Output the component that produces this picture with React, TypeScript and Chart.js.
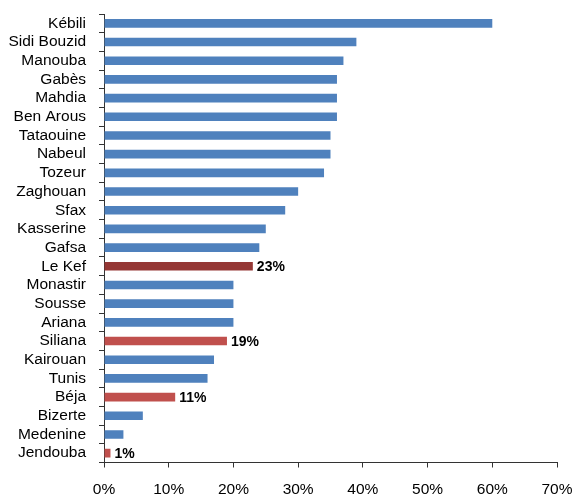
import React, { useEffect, useRef } from "react";
import { Chart, registerables } from "chart.js";

Chart.register(...registerables);

const categories = [
  "Kébili", "Sidi Bouzid", "Manouba", "Gabès", "Mahdia", "Ben Arous", "Tataouine",
  "Nabeul", "Tozeur", "Zaghouan", "Sfax", "Kasserine", "Gafsa", "Le Kef", "Monastir",
  "Sousse", "Ariana", "Siliana", "Kairouan", "Tunis", "Béja", "Bizerte", "Medenine", "Jendouba",
];
const values = [60, 39, 37, 36, 36, 36, 35, 35, 34, 30, 28, 25, 24, 23, 20, 20, 20, 19, 17, 16, 11, 6, 3, 1];
const darkRed = ["Le Kef"];
const lightRed = ["Siliana", "Béja", "Jendouba"];
const labeled = ["Le Kef", "Siliana", "Béja", "Jendouba"];
const xTicks = [0, 10, 20, 30, 40, 50, 60, 70];

const BLUE = "#4F81BD";
const DARK_RED = "#953735";
const RED = "#C0504D";
const FONT = "'Liberation Sans', Arial, sans-serif";

const labelPlugin = {
  id: "barLabels",
  afterDatasetsDraw(chart: any) {
    const ctx = chart.ctx;
    const meta = chart.getDatasetMeta(0);
    ctx.save();
    ctx.font = `bold 14px ${FONT}`;
    ctx.fillStyle = "#000";
    ctx.textAlign = "left";
    ctx.textBaseline = "middle";
    meta.data.forEach((bar: any, i: number) => {
      if (labeled.includes(categories[i])) {
        ctx.fillText(values[i] + "%", bar.x + 4, bar.y + 1);
      }
    });
    ctx.restore();
  },
};

const zeroPad = (scale: any) => {
  scale.paddingTop = 0;
  scale.paddingBottom = 0;
  scale.paddingLeft = 0;
  scale.paddingRight = 0;
};

export default function App() {
  const ref = useRef<HTMLCanvasElement>(null);
  useEffect(() => {
    if (!ref.current) return;
    Chart.defaults.font.family = FONT;
    Chart.defaults.color = "#000";
    const colors = categories.map((c) =>
      darkRed.includes(c) ? DARK_RED : lightRed.includes(c) ? RED : BLUE
    );
    const chart = new Chart(ref.current, {
      type: "bar",
      data: {
        labels: categories,
        datasets: [
          {
            data: values,
            backgroundColor: colors,
            barPercentage: 0.46,
            categoryPercentage: 1,
          },
        ],
      },
      options: {
        indexAxis: "y",
        animation: false,
        responsive: false,
        maintainAspectRatio: false,
        layout: { padding: { top: 14, right: 17, left: 0, bottom: 0 } },
        plugins: { legend: { display: false }, tooltip: { enabled: false } },
        scales: {
          x: {
            min: 0,
            max: 70,
            afterBuildTicks: (scale: any) => {
              scale.ticks = xTicks.map((v) => ({ value: v }));
            },
            afterFit: (scale: any) => {
              scale.height = 37.5;
              zeroPad(scale);
            },
            ticks: {
              callback: (v: any) => v + "%",
              font: { size: 15.5 },
              padding: 13,
              maxRotation: 0,
            },
            grid: {
              drawOnChartArea: false,
              drawTicks: true,
              tickLength: 5,
              color: "#333",
            },
            border: { display: true, color: "#333", width: 1 },
          },
          y: {
            afterFit: (scale: any) => {
              scale.width = 104;
              zeroPad(scale);
            },
            ticks: {
              font: { size: 15.5 },
              padding: 13,
              autoSkip: false,
            },
            grid: {
              drawOnChartArea: false,
              drawTicks: true,
              tickLength: 5,
              offset: true,
              color: "#333",
            },
            border: { display: true, color: "#333", width: 1 },
          },
        },
      },
      plugins: [labelPlugin],
    });
    return () => chart.destroy();
  }, []);
  return (
    <div style={{ position: "fixed", left: 0, top: 0, width: 574, height: 500, background: "#fff" }}>
      <canvas ref={ref} width={574} height={500} />
    </div>
  );
}
